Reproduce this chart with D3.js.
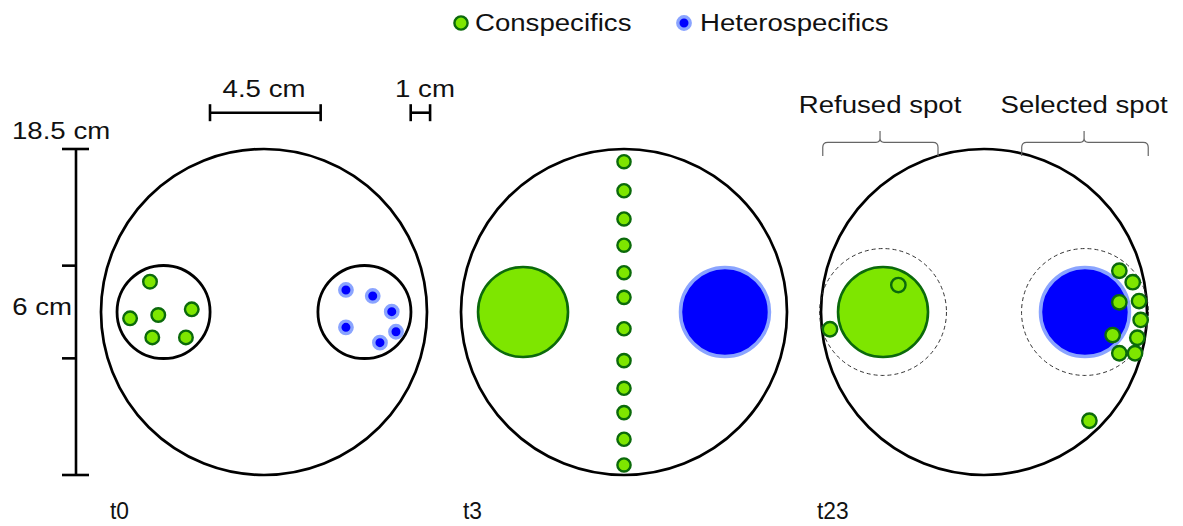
<!DOCTYPE html>
<html lang="en">
<head>
<meta charset="utf-8">
<title>Arena set-up</title>
<script src="https://cdn.jsdelivr.net/npm/d3@7"></script>
<style>
  body { margin: 0; background: #fff; }
  svg text { font-family: "Liberation Sans", Arial, sans-serif; font-size: 24px; fill: #111; }
</style>
</head>
<body>
<div id="vis"></div>
<script>
// positions are in arena units, origin = arena centre, arena radius = 9.25
var arenas = ["t0", "t3", "t23"];
var legendItems = ["Conspecifics", "Heterospecifics"];

// t0 : animals still inside the two release dishes
var t0Dishes = [-5.7, 5.7];
var dishR = 2.64;
var t0Con = [[-6.47, -1.72], [-7.60, 0.36], [-6.00, 0.17], [-4.10, -0.15], [-6.34, 1.44], [-4.43, 1.44]];
var t0Het = [[4.65, -1.25], [6.17, -0.91], [7.25, -0.02], [4.65, 0.87], [7.49, 1.12], [6.58, 1.74]];

// t3 : conspecifics along the middle line, the two spots on each side
var t3ConY = [-8.53, -6.88, -5.28, -3.79, -2.23, -0.83, 0.95, 2.76, 4.33, 5.71, 7.22, 8.68];
var spotX = [-5.73, 5.73];   // conspecific spot, heterospecific spot
var spotR = 2.61;
var zoneR = 3.6;

// t23 : final positions
var t23Con = [[-4.86, -1.53], [-8.74, 0.98], [7.68, -2.34], [8.44, -1.69], [7.68, -0.55], [8.80, -0.62],
              [8.89, 0.45], [7.30, 1.31], [8.70, 1.46], [7.68, 2.34], [8.57, 2.34], [5.98, 6.17]];

var braces = [
  { label: "Refused spot", from: -9.15, to: -2.61, mid: -5.9 },
  { label: "Selected spot", from: 2.14, to: 9.32, mid: 5.68 }
];
var rulerTicks = [-9.25, -2.63, 2.63, 9.25];
var scaleBars = [{ label: "4.5 cm", len: 6.28 }, { label: "1 cm", len: 1.1 }];

var W = 1183, H = 526, cy = 312;
var green = "#7ee600", greenDark = "#0b6a0b", blue = "#0000ff", blueHalo = "#8aa4ff";

var svg = d3.select("#vis").append("svg")
  .attr("width", W)
  .attr("height", H);

var cx = d3.scalePoint().domain(arenas).range([264, 984]);
var u = d3.scaleLinear().domain([0, 9.25]).range([0, 163]);
var yS = d3.scaleLinear().domain([-9.25, 9.25]).range([cy - 163, cy + 163]);

// text in the original is a bit wider than Arial
function label(g, x, y, txt, anchor, sx) {
  return g.append("text")
    .attr("transform", "translate(" + x + "," + y + ") scale(" + (sx || 1.15) + ",1)")
    .attr("text-anchor", anchor || "start")
    .text(txt);
}
function conDot(sel, r) {
  sel.attr("r", r || 6.8).attr("fill", green).attr("stroke", greenDark).attr("stroke-width", 2.4);
}
function hetDot(sel) {
  sel.attr("r", 6.2).attr("fill", blue).attr("stroke", blueHalo).attr("stroke-width", 3.4);
}

// legend
var leg = svg.append("g");
leg.append("circle").attr("cx", 461).attr("cy", 23).call(conDot, 6.6);
label(leg, 475, 31, legendItems[0]);
leg.append("circle").attr("cx", 684).attr("cy", 23).call(hetDot);
label(leg, 700, 31, legendItems[1]);

// arenas
arenas.forEach(function(a) {
  svg.append("circle")
    .attr("cx", cx(a)).attr("cy", cy).attr("r", u(9.25))
    .attr("fill", "none").attr("stroke", "#000").attr("stroke-width", 2.7);
});

// t0
var g0 = svg.append("g");
g0.selectAll(".dish").data(t0Dishes).enter().append("circle")
  .attr("cx", function(d) { return cx("t0") + u(d); })
  .attr("cy", cy).attr("r", u(dishR))
  .attr("fill", "#fff").attr("stroke", "#000").attr("stroke-width", 2.8);
g0.selectAll(".con").data(t0Con).enter().append("circle")
  .attr("cx", function(d) { return cx("t0") + u(d[0]); })
  .attr("cy", function(d) { return yS(d[1]); })
  .call(conDot);
g0.selectAll(".het").data(t0Het).enter().append("circle")
  .attr("cx", function(d) { return cx("t0") + u(d[0]); })
  .attr("cy", function(d) { return yS(d[1]); })
  .call(hetDot);

// spots for t3 and t23
["t3", "t23"].forEach(function(a) {
  var g = svg.append("g");
  if (a === "t23") {
    g.selectAll(".zone").data(spotX).enter().append("circle")
      .attr("cx", function(d) { return cx(a) + u(d); })
      .attr("cy", cy).attr("r", u(zoneR))
      .attr("fill", "none").attr("stroke", "#333").attr("stroke-width", 1)
      .attr("stroke-dasharray", "4,3");
  }
  g.append("circle")
    .attr("cx", cx(a) + u(spotX[0])).attr("cy", cy).attr("r", u(spotR) - 1)
    .attr("fill", green).attr("stroke", greenDark).attr("stroke-width", 2.6);
  g.append("circle")
    .attr("cx", cx(a) + u(spotX[1])).attr("cy", cy).attr("r", u(spotR) - 1.5)
    .attr("fill", blue).attr("stroke", blueHalo).attr("stroke-width", 3.5);
});

svg.append("g").selectAll("circle").data(t3ConY).enter().append("circle")
  .attr("cx", cx("t3"))
  .attr("cy", function(d) { return yS(d); })
  .call(conDot, 6.6);

svg.append("g").selectAll("circle").data(t23Con).enter().append("circle")
  .attr("cx", function(d) { return cx("t23") + u(d[0]); })
  .attr("cy", function(d) { return yS(d[1]); })
  .call(conDot, 7.2);

// braces above t23
var bg = svg.append("g");
braces.forEach(function(b) {
  var x1 = cx("t23") + u(b.from), x2 = cx("t23") + u(b.to), m = cx("t23") + u(b.mid);
  var yb = 142.3;
  var p = "M" + x1 + ",156 L" + x1 + "," + (yb + 5) + " Q" + x1 + "," + yb + " " + (x1 + 5) + "," + yb +
    " L" + (m - 4) + "," + yb + " Q" + m + "," + yb + " " + m + "," + (yb - 4) + " L" + m + ",131" +
    " M" + m + "," + (yb - 4) + " Q" + m + "," + yb + " " + (m + 4) + "," + yb +
    " L" + (x2 - 5) + "," + yb + " Q" + x2 + "," + yb + " " + x2 + "," + (yb + 5) + " L" + x2 + ",156";
  bg.append("path").attr("d", p).attr("fill", "none").attr("stroke", "#666").attr("stroke-width", 1.2);
  label(bg, m, 113, b.label, "middle");
});

// vertical ruler
var rg = svg.append("g").attr("stroke", "#000").attr("stroke-width", 2.6);
var rx = 76;
rg.append("line").attr("x1", rx).attr("x2", rx).attr("y1", yS(-9.25)).attr("y2", yS(9.25));
rg.selectAll(".tick").data(rulerTicks).enter().append("line")
  .attr("x1", 62)
  .attr("x2", function(d, i) { return (i === 0 || i === rulerTicks.length - 1) ? 89 : rx; })
  .attr("y1", function(d) { return yS(d); })
  .attr("y2", function(d) { return yS(d); });
label(svg, 12, 139, "18.5 cm");
label(svg, 72, 315, "6 cm", "end");

// horizontal scale bars
var sbX = [210, 410.7], sbY = 112.7;
scaleBars.forEach(function(b, i) {
  var g = svg.append("g").attr("stroke", "#000").attr("stroke-width", 2.6);
  var x1 = sbX[i], x2 = sbX[i] + u(b.len);
  g.append("line").attr("x1", x1).attr("x2", x2).attr("y1", sbY).attr("y2", sbY);
  g.append("line").attr("x1", x1).attr("x2", x1).attr("y1", sbY - 8.5).attr("y2", sbY + 8.5);
  g.append("line").attr("x1", x2).attr("x2", x2).attr("y1", sbY - 8.5).attr("y2", sbY + 8.5);
});
label(svg, 264, 97, scaleBars[0].label, "middle");
label(svg, 425, 97, scaleBars[1].label, "middle");

// time labels
arenas.forEach(function(a) {
  label(svg, cx(a) - 154 - (a === "t3" ? 7 : a === "t23" ? 13 : 0), 519, a, "start", 0.95);
});
</script>
</body>
</html>
